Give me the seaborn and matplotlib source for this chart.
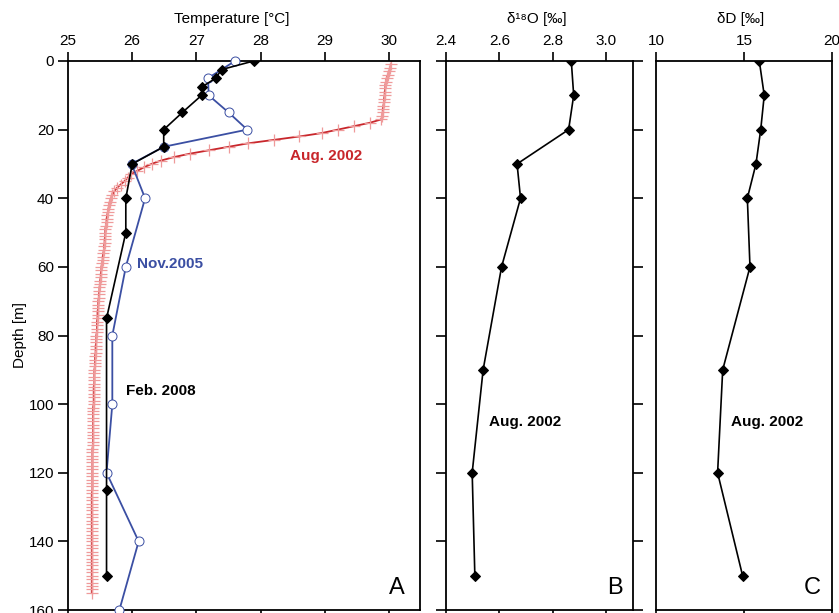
import numpy as np
import matplotlib
matplotlib.use("Agg")
import matplotlib.pyplot as plt
import seaborn as sns

# --- datos ---
# Feb. 2008 (diamantes negros)
feb08_depth = [0, 2.5, 5, 7.5, 10, 15, 20, 25, 30, 40, 50, 75, 125, 150]
feb08_temp = [27.89, 27.39, 27.30, 27.09, 27.08, 26.78, 26.49, 26.49, 26.0, 25.90, 25.90, 25.60, 25.60, 25.60]

# Nov. 2005 (circulos azules)
nov05_depth = [0, 5, 10, 15, 20, 25, 30, 40, 60, 80, 100, 120, 140, 160]
nov05_temp = [27.60, 27.18, 27.19, 27.50, 27.79, 26.49, 25.99, 26.20, 25.90, 25.69, 25.69, 25.60, 26.10, 25.80]

# Aug. 2002 (perfil CTD, 1 m)
aug02_depth = np.arange(1, 156)
aug02_temp = [
    30.03, 30.02, 30.00, 29.98, 29.96, 29.95, 29.94, 29.94, 29.93, 29.93,
    29.92, 29.92, 29.91, 29.90, 29.90, 29.89, 29.88, 29.70, 29.45, 29.20,
    28.95, 28.60, 28.20, 27.80, 27.50, 27.20, 26.90, 26.65, 26.45, 26.30,
    26.18, 26.08, 25.98, 25.93, 25.88, 25.82, 25.76, 25.72, 25.69, 25.67,
    25.65, 25.64, 25.63, 25.62, 25.61, 25.60, 25.60, 25.59, 25.58, 25.58,
    25.58, 25.57, 25.57, 25.56, 25.56, 25.55, 25.54, 25.54, 25.53, 25.52,
    25.52, 25.51, 25.51, 25.50, 25.50, 25.49, 25.49, 25.48, 25.48, 25.47,
    25.47, 25.47, 25.46, 25.46, 25.46, 25.45, 25.45, 25.45, 25.45, 25.44,
    25.44, 25.44, 25.43, 25.43, 25.43, 25.42, 25.42, 25.42, 25.42, 25.41,
    25.41, 25.41, 25.41, 25.41, 25.40, 25.40, 25.40, 25.40, 25.40, 25.40,
    25.39, 25.39, 25.39, 25.39, 25.39, 25.39, 25.39, 25.39, 25.39, 25.39,
    25.39, 25.39, 25.38, 25.38, 25.38, 25.38, 25.38, 25.38, 25.38, 25.38,
    25.38, 25.38, 25.38, 25.38, 25.38, 25.37, 25.37, 25.37, 25.37, 25.37,
    25.37, 25.37, 25.37, 25.37, 25.37, 25.37, 25.37, 25.37, 25.37, 25.37,
    25.37, 25.37, 25.37, 25.37, 25.37, 25.37, 25.37, 25.37, 25.37, 25.37,
    25.37, 25.37, 25.37, 25.37, 25.37,
]

# isotopos Aug. 2002
iso_depth = [0, 10, 20, 30, 40, 60, 90, 120, 150]
d18o = [2.869, 2.878, 2.859, 2.666, 2.679, 2.608, 2.539, 2.498, 2.508]
dD = [15.87, 16.15, 15.95, 15.68, 15.19, 15.34, 13.79, 13.50, 14.92]

temp_ticks = [25, 26, 27, 28, 29, 30]
d18o_ticks = [2.4, 2.6, 2.8, 3.0]
d18o_labels = ["2.4", "2.6", "2.8", "3.0"]
dD_ticks = [10, 15, 20]
depth_ticks = [0, 20, 40, 60, 80, 100, 120, 140, 160]

sns.set_style("ticks")
plt.rcParams["font.family"] = ["Liberation Sans", "DejaVu Sans"]
plt.rcParams["font.size"] = 11
for k in ("text.color", "axes.labelcolor", "xtick.color", "ytick.color",
          "xtick.labelcolor", "ytick.labelcolor"):
    plt.rcParams[k] = "black"

RED_LINE = "#c8262b"
RED_MARK = "#ef9a9a"
BLUE = "#3b4fa3"

fig = plt.figure(figsize=(8.39, 6.13), dpi=100)
H = 613.0
W = 839.0
bot = (H - 610) / H
hgt = 549 / H
axA = fig.add_axes([68 / W, bot, 352 / W, hgt])
axB = fig.add_axes([446 / W, bot, 187 / W, hgt])
axC = fig.add_axes([656 / W, bot, 176 / W, hgt])

# --- Panel A: temperatura ---
sns.lineplot(x=aug02_temp, y=aug02_depth, sort=False, estimator=None, ax=axA,
             color=RED_LINE, lw=1.3, marker="+", ms=8.5, mew=0.9,
             mec=RED_MARK, zorder=2)
sns.lineplot(x=nov05_temp, y=nov05_depth, sort=False, estimator=None, ax=axA,
             color=BLUE, lw=1.3, marker="o", ms=6.5, mfc="white", mec=BLUE,
             mew=0.7, zorder=3, clip_on=False)
sns.lineplot(x=feb08_temp, y=feb08_depth, sort=False, estimator=None, ax=axA,
             color="black", lw=1.2, marker="D", ms=4.6, mfc="black", mec="black",
             zorder=4)

axA.set_xlim(25, 30.48)
axA.set_xticks(temp_ticks)
axA.set_xlabel("")
axA.set_ylabel("Depth [m]", fontsize=11, labelpad=1)

axA.text(0.465, 1.077, "Temperature [°C]", transform=axA.transAxes,
         ha="center", va="center", fontsize=11)
axA.text(29.02, 27.7, "Aug. 2002", color=RED_LINE, fontsize=11,
         fontweight="bold", ha="center", va="center")
axA.text(26.07, 59.3, "Nov.2005", color=BLUE, fontsize=11,
         fontweight="bold", ha="left", va="center")
axA.text(25.91, 96.2, "Feb. 2008", color="black", fontsize=11,
         fontweight="bold", ha="left", va="center")
axA.text(0.935, 0.04, "A", transform=axA.transAxes, fontsize=17,
         ha="center", va="center")

# --- Panel B: d18O ---
sns.lineplot(x=d18o, y=iso_depth, sort=False, estimator=None, ax=axB,
             color="black", lw=1.2, marker="D", ms=4.6, mfc="black", mec="black")
axB.set_xlim(2.4, 3.1)
axB.set_xticks(d18o_ticks)
axB.set_xticklabels(d18o_labels)
axB.set_xlabel("")
axB.set_ylabel("")
axB.text(0.485, 1.077, "δ¹⁸O [‰]", transform=axB.transAxes,
         ha="center", va="center", fontsize=11)
axB.text(2.56, 105.3, "Aug. 2002", fontsize=11, fontweight="bold",
         ha="left", va="center")
axB.text(0.905, 0.04, "B", transform=axB.transAxes, fontsize=17,
         ha="center", va="center")

# --- Panel C: dD ---
sns.lineplot(x=dD, y=iso_depth, sort=False, estimator=None, ax=axC,
             color="black", lw=1.2, marker="D", ms=4.6, mfc="black", mec="black")
axC.set_xlim(10, 20)
axC.set_xticks(dD_ticks)
axC.set_xlabel("")
axC.set_ylabel("")
axC.text(0.48, 1.077, "δD [‰]", transform=axC.transAxes,
         ha="center", va="center", fontsize=11)
axC.text(14.26, 105.3, "Aug. 2002", fontsize=11, fontweight="bold",
         ha="left", va="center")
axC.text(0.885, 0.04, "C", transform=axC.transAxes, fontsize=17,
         ha="center", va="center")

for ax in (axA, axB, axC):
    ax.set_ylim(160, 0)
    ax.set_yticks(depth_ticks)
    for sp in ax.spines.values():
        sp.set_visible(True)
        sp.set_linewidth(1.3)
        sp.set_color("black")
    ax.tick_params(axis="x", which="both", top=True, bottom=True,
                   labeltop=True, labelbottom=False, direction="out",
                   length=6.5, width=1.2, pad=3, labelsize=11)
    ax.grid(False)

axA.tick_params(axis="y", left=True, right=False, labelleft=True,
                direction="out", length=7, width=1.2, pad=3, labelsize=11)
axB.tick_params(axis="y", left=True, right=True, labelleft=False,
                labelright=False, direction="out", length=7, width=1.2)
axC.tick_params(axis="y", left=False, right=False, labelleft=False,
                labelright=False)

fig.savefig("out.png", dpi=100)
